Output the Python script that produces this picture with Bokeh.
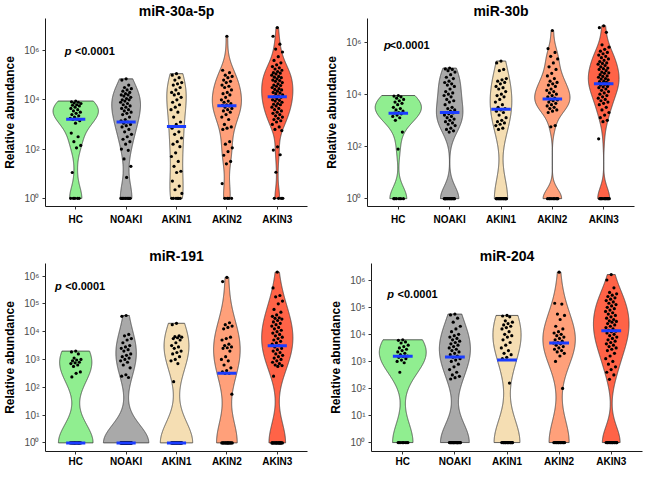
import numpy as np
from bokeh.plotting import figure
from bokeh.layouts import column, row
from bokeh.models import FixedTicker, Label
from bokeh.embed import file_html
from bokeh.resources import INLINE

groups = ["HC", "NOAKI", "AKIN1", "AKIN2", "AKIN3"]
colors = ["#90EE90", "#A9A9A9", "#F5DEB3", "#FFA07A", "#FF6347"]

# ---- values are log10(relative abundance); 0 = 10^0 ----
# miR-30a-5p
m30a_HC = [3.95, 3.92, 3.9, 3.87, 3.85, 3.8, 3.78, 3.75, 3.7, 3.65, 3.6, 3.55, 3.5, 3.45, 3.4,
           3.35, 3.3, 3.25, 3.22, 3.2, 3.15, 3.05, 2.65, 2.5, 2.3, 2.15, 2.05, 1.05,
           0, 0, 0, 0, 0]
m30a_NOAKI = [4.85, 4.8, 4.6, 4.5, 4.45, 4.4, 4.35, 4.3, 4.25, 4.2, 4.2, 4.15, 4.1, 4.05, 4.0, 4.0,
              3.95, 3.9, 3.85, 3.8, 3.75, 3.7, 3.65, 3.6, 3.55, 3.5, 3.45, 3.4, 3.3, 3.2, 3.15, 3.1,
              3.05, 3.0, 2.95, 2.9, 2.8, 2.7, 2.6, 2.5, 2.4, 2.3, 2.2, 2.0, 1.95, 1.6, 1.3, 0.85,
              0, 0, 0, 0, 0, 0, 0, 0, 0, 0]
m30a_AKIN1 = [5.06, 5.0, 4.9, 4.8, 4.7, 4.65, 4.6, 4.5, 4.4, 4.3, 4.25, 4.2, 4.1, 4.0, 3.9, 3.8,
              3.7, 3.6, 3.5, 3.3, 3.1, 3.0, 2.85, 2.7, 2.6, 2.45, 2.3, 2.2, 2.1, 1.85, 1.7, 1.5,
              1.3, 1.1, 1.05, 0.7, 0.5, 0.35, 0.2,
              0, 0, 0, 0, 0, 0]
m30a_AKIN2 = [6.58, 5.2, 5.1, 5.0, 4.95, 4.9, 4.8, 4.75, 4.7, 4.6, 4.55, 4.5, 4.4, 4.3, 4.25, 4.2,
              4.1, 4.0, 3.95, 3.9, 3.85, 3.8, 3.78, 3.75, 3.7, 3.65, 3.6, 3.55, 3.5, 3.4, 3.3, 3.2,
              3.0, 2.9, 2.85, 2.8, 2.3, 2.2, 2.05, 1.9, 1.75, 1.5, 1.4, 0.6,
              0, 0, 0, 0]
m30a_AKIN3 = [6.93, 6.58, 6.26, 6.06, 5.94, 5.75, 5.6, 5.5, 5.42, 5.35, 5.3, 5.25, 5.2, 5.15, 5.1,
              5.08, 5.05, 5.0, 4.95, 4.92, 4.9, 4.85, 4.8, 4.78, 4.75, 4.7, 4.65, 4.6, 4.58, 4.55,
              4.5, 4.45, 4.42, 4.4, 4.35, 4.3, 4.28, 4.25, 4.2, 4.15, 4.12, 4.1, 4.05, 4.0, 3.98,
              3.95, 3.9, 3.85, 3.82, 3.8, 3.75, 3.7, 3.65, 3.6, 3.55, 3.5, 3.45, 3.4, 3.35, 3.3,
              3.25, 3.2, 3.15, 3.1, 3.0, 2.9, 2.8, 2.75, 2.09, 1.96, 1.77, 1.06,
              0, 0, 0, 0]
m30a_median = [3.21, 3.1, 2.92, 3.76, 4.12]

# miR-30b
m30b_HC = [3.95, 3.93, 3.9, 3.85, 3.8, 3.75, 3.7, 3.65, 3.6, 3.5, 3.45, 3.4, 3.35, 3.3, 3.28,
           3.25, 3.2, 3.15, 3.1, 3.0, 2.55, 1.9,
           0, 0, 0, 0, 0, 0]
m30b_NOAKI = [5.0, 4.97, 4.95, 4.9, 4.85, 4.75, 4.65, 4.6, 4.5, 4.45, 4.4, 4.35, 4.3, 4.2, 4.1,
              4.05, 4.0, 3.95, 3.9, 3.8, 3.75, 3.7, 3.6, 3.5, 3.45, 3.4, 3.35, 3.3, 3.28, 3.25,
              3.2, 3.15, 3.1, 3.05, 3.0, 2.95, 2.9, 2.85, 2.8, 2.7, 2.65, 2.6, 2.55,
              0, 0, 0, 0, 0, 0, 0, 0, 0, 0, 0, 0, 0, 0]
m30b_AKIN1 = [5.27, 5.2, 4.95, 4.9, 4.6, 4.55, 4.5, 4.45, 4.4, 4.3, 4.25, 4.2, 4.1, 4.0, 3.95,
              3.9, 3.8, 3.7, 3.6, 3.5, 3.45, 3.4, 3.35, 3.3, 3.2, 3.1, 3.0, 2.95, 2.9, 2.85, 2.8,
              2.7, 2.65,
              0, 0, 0, 0, 0, 0, 0, 0, 0, 0, 0, 0, 0, 0]
m30b_AKIN2 = [6.44, 5.75, 5.6, 5.45, 5.35, 5.2, 5.05, 4.95, 4.8, 4.7, 4.6, 4.5, 4.45, 4.4, 4.35,
              4.3, 4.2, 4.15, 4.1, 4.05, 4.0, 3.95, 3.9, 3.85, 3.8, 3.78, 3.75, 3.7, 3.65, 3.6,
              3.55, 3.5, 3.45, 3.4, 3.35, 3.3, 2.8, 2.75,
              0, 0, 0, 0, 0, 0, 0, 0, 0]
m30b_AKIN3 = [6.62, 6.55, 6.37, 5.89, 5.8, 5.72, 5.65, 5.6, 5.55, 5.5, 5.45, 5.4, 5.35, 5.3, 5.25,
              5.2, 5.18, 5.15, 5.1, 5.05, 5.0, 4.98, 4.95, 4.9, 4.85, 4.82, 4.8, 4.75, 4.7, 4.68,
              4.65, 4.6, 4.58, 4.55, 4.5, 4.48, 4.45, 4.42, 4.4, 4.38, 4.35, 4.3, 4.28, 4.25, 4.2,
              4.15, 4.1, 4.05, 4.0, 3.95, 3.9, 3.85, 3.8, 3.75, 3.7, 3.65, 3.6, 3.5, 3.4, 3.3, 3.2,
              3.1, 3.0, 2.95, 2.29,
              0, 0, 0, 0, 0, 0, 0, 0, 0, 0, 0]
m30b_median = [3.27, 3.3, 3.42, 3.82, 4.4]

# miR-191
m191_HC = [3.3, 3.27, 3.2, 3.05, 3.0, 2.98, 2.95, 2.9, 2.88, 2.85, 2.8, 2.75, 2.55, 2.5, 2.37,
           0, 0, 0, 0, 0, 0, 0, 0, 0, 0, 0, 0, 0, 0, 0]
m191_NOAKI = [4.58, 4.55, 3.9, 3.85, 3.75, 3.7, 3.6, 3.5, 3.45, 3.4, 3.35, 3.3, 3.2, 3.15, 3.1,
              3.05, 3.0, 2.95, 2.9, 2.8, 2.7, 2.45, 2.4, 2.35,
              0, 0, 0, 0, 0, 0, 0, 0, 0, 0,
              0, 0, 0, 0, 0, 0, 0, 0, 0, 0,
              0, 0, 0, 0, 0, 0, 0, 0, 0, 0,
              0, 0, 0, 0, 0, 0, 0, 0, 0, 0]
m191_AKIN1 = [4.3, 4.25, 3.85, 3.82, 3.8, 3.78, 3.75, 3.7, 3.6, 3.5, 3.45, 3.4, 3.3, 3.25, 3.2,
              3.1, 3.0, 2.95, 2.85, 2.2,
              0, 0, 0, 0, 0, 0, 0, 0, 0, 0,
              0, 0, 0, 0, 0, 0, 0, 0, 0, 0,
              0, 0]
m191_AKIN2 = [5.95, 5.8, 4.32, 4.25, 4.2, 4.15, 4.1, 3.8, 3.75, 3.7, 3.55, 3.5, 3.45, 3.42, 3.4,
              3.3, 3.1, 3.0, 2.95, 2.8, 2.7, 2.6, 2.55, 2.5, 2.5, 1.75,
              0, 0, 0, 0, 0, 0, 0, 0, 0, 0, 0, 0, 0, 0]
m191_AKIN3 = [6.14, 5.57, 5.3, 5.25, 5.1, 5.0, 4.8, 4.7, 4.6, 4.55, 4.5, 4.48, 4.45, 4.4, 4.35,
              4.3, 4.25, 4.2, 4.15, 4.1, 4.05, 4.0, 3.95, 3.9, 3.85, 3.8, 3.75, 3.7, 3.65, 3.6,
              3.55, 3.5, 3.45, 3.4, 3.35, 3.3, 3.25, 3.2, 3.15, 3.1, 3.05, 3.0, 2.95, 2.9, 2.85,
              2.8, 2.78, 2.75, 2.4,
              0, 0, 0, 0, 0, 0, 0, 0, 0, 0, 0, 0, 0, 0, 0, 0, 0]
m191_median = [0, 0, 0, 2.5, 3.49]

# miR-204
m204_HC = [3.8, 3.78, 3.72, 3.68, 3.6, 3.55, 3.5, 3.45, 3.4, 3.35, 3.3, 3.25, 3.2, 3.18, 3.15,
           3.1, 3.05, 3.0, 2.95, 2.6,
           0, 0, 0, 0, 0, 0, 0, 0]
m204_NOAKI = [4.75, 4.72, 4.6, 4.45, 4.3, 4.2, 4.1, 4.0, 3.95, 3.9, 3.85, 3.8, 3.75, 3.7, 3.65,
              3.6, 3.55, 3.5, 3.45, 3.4, 3.35, 3.3, 3.25, 3.2, 3.15, 3.1, 3.05, 3.0, 2.9, 2.8,
              2.7, 2.6, 2.5, 2.45, 2.4, 2.35,
              0, 0, 0, 0, 0, 0, 0, 0, 0, 0,
              0, 0, 0, 0, 0, 0, 0, 0, 0, 0,
              0, 0, 0, 0]
m204_AKIN1 = [4.7, 4.68, 4.65, 4.5, 4.45, 4.4, 4.35, 4.3, 4.25, 4.2, 4.1, 4.0, 3.95, 3.9, 3.8,
              3.7, 3.6, 3.5, 3.4, 3.3, 3.25, 3.15, 3.1, 2.2,
              0, 0, 0, 0, 0, 0, 0, 0, 0, 0,
              0, 0, 0, 0, 0, 0, 0, 0]
m204_AKIN2 = [6.3, 5.15, 5.12, 4.75, 4.7, 4.55, 4.3, 4.2, 4.1, 4.05, 4.0, 3.95, 3.9, 3.85, 3.8,
              3.75, 3.7, 3.68, 3.65, 3.6, 3.55, 3.5, 3.45, 3.4, 3.35, 3.3, 3.2, 3.0, 2.0,
              0, 0, 0, 0, 0, 0, 0, 0, 0, 0, 0, 0, 0, 0]
m204_AKIN3 = [6.21, 6.01, 5.72, 5.55, 5.5, 5.45, 5.4, 5.35, 5.3, 5.25, 5.2, 5.15, 5.1, 5.05, 5.0,
              4.95, 4.9, 4.85, 4.8, 4.75, 4.7, 4.65, 4.6, 4.55, 4.5, 4.48, 4.45, 4.4, 4.35, 4.3,
              4.25, 4.2, 4.15, 4.12, 4.1, 4.05, 4.0, 3.95, 3.9, 3.85, 3.8, 3.75, 3.7, 3.65, 3.6,
              3.55, 3.5, 3.45, 3.4, 3.3, 3.2, 3.1, 3.0, 2.9, 2.8, 2.7, 2.6, 2.5, 2.34,
              0, 0, 0, 0, 0, 0, 0, 0, 0, 0, 0, 0, 0, 0, 0]
m204_median = [3.19, 3.16, 3.05, 3.68, 4.13]

SUP = {0: "\u2070", 1: "\u00b9", 2: "\u00b2", 3: "\u00b3", 4: "\u2074", 5: "\u2075", 6: "\u2076"}
FONT = "Liberation Sans"


def nrd0(x):
    n = len(x)
    sd = np.std(x, ddof=1)
    q25, q75 = np.percentile(x, [25, 75])
    lo = min(sd, (q75 - q25) / 1.34)
    if lo == 0:
        lo = sd if sd > 0 else 1.0
    return 0.9 * lo * n ** -0.2


def kde(x, grid, bw):
    z = (grid[:, None] - x[None, :]) / bw
    return np.exp(-0.5 * z ** 2).sum(axis=1) / (len(x) * bw * np.sqrt(2 * np.pi))


def panel(title, data, medians, yr, ticks, ptxt, width, height, bl, br, bt, bb, xstand):
    p = figure(width=width, height=height, x_range=(0.4, 5.6), y_range=yr,
               output_backend="svg", toolbar_location=None,
               min_border_left=bl, min_border_right=br, min_border_top=bt, min_border_bottom=bb)
    p.outline_line_color = None
    p.xgrid.visible = False
    p.ygrid.visible = False
    p.background_fill_color = "white"
    p.border_fill_color = "white"
    p.title.text = title
    p.title.align = "center"
    p.title.text_font = FONT
    p.title.text_font_size = "14px"
    p.title.text_font_style = "bold"
    p.title.text_color = "black"
    p.title.standoff = 0
    p.title.offset = 0

    dens = []
    for vals in data:
        v = np.array(vals, dtype=float)
        grid = np.linspace(v.min(), v.max(), 512)
        dens.append((grid, kde(v, grid, nrd0(v))))
    mx = max(d.max() for _, d in dens)
    for i, (grid, d) in enumerate(dens):
        hw = 0.45 * d / mx
        xs = np.concatenate([i + 1 + hw, (i + 1 - hw)[::-1]])
        ys = np.concatenate([grid, grid[::-1]])
        p.patch(xs, ys, fill_color=colors[i], line_color="#3a3a3a", line_width=0.8)

    for i, vals in enumerate(data):
        n = len(vals)
        jit = ((np.arange(n) * 0.6180339887 + 0.5) % 1.0 - 0.5) * 0.22
        p.scatter(i + 1 + jit, vals, size=3.2, fill_color="black", line_color=None)

    xc = np.arange(1, 6)
    p.segment(x0=xc - 0.19, x1=xc + 0.19, y0=medians, y1=medians,
              line_color="#1a3cff", line_width=3)

    p.xaxis.ticker = FixedTicker(ticks=list(xc))
    p.xaxis.major_label_overrides = {int(k): g for k, g in zip(xc, groups)}
    p.yaxis.ticker = FixedTicker(ticks=ticks)
    p.yaxis.major_label_overrides = {t: "10" + SUP[t] for t in ticks}
    for ax in (p.xaxis[0], p.yaxis[0]):
        ax.axis_line_color = "#1a1a1a"
        ax.axis_line_width = 1
        ax.major_tick_line_color = "#333333"
        ax.major_tick_out = 3
        ax.major_tick_in = 0
        ax.minor_tick_line_color = None
        ax.major_label_text_font = FONT
        ax.major_label_text_font_size = "10px"
    p.xaxis.major_label_text_font_style = "bold"
    p.xaxis.major_label_text_color = "black"
    p.xaxis.major_label_standoff = xstand
    p.yaxis.major_label_text_color = "#4d4d4d"
    p.yaxis.major_label_standoff = 3
    p.yaxis.axis_label = "Relative abundance"
    p.yaxis.axis_label_text_font = FONT
    p.yaxis.axis_label_text_font_size = "12px"
    p.yaxis.axis_label_text_font_style = "bold"
    p.yaxis.axis_label_text_color = "black"
    p.yaxis.axis_label_standoff = 4

    px, lx, ty = ptxt
    p.add_layout(Label(x=px, y=ty, text="p", text_font=FONT, text_font_size="11px",
                       text_font_style="bold italic", text_baseline="middle", text_color="black"))
    p.add_layout(Label(x=lx, y=ty, text="<0.0001", text_font=FONT, text_font_size="11px",
                       text_font_style="bold", text_baseline="middle", text_color="black"))
    return p


p1 = panel("miR-30a-5p", [m30a_HC, m30a_NOAKI, m30a_AKIN1, m30a_AKIN2, m30a_AKIN3], m30a_median,
           (-0.33, 7.3), [0, 2, 4, 6], (0.78, 0.98, 6.0), 322, 234, 37, 15, 16, 27, 4)
p2 = panel("miR-30b", [m30b_HC, m30b_NOAKI, m30b_AKIN1, m30b_AKIN2, m30b_AKIN3], m30b_median,
           (-0.3, 6.9), [0, 2, 4, 6], (0.72, 0.83, 5.89), 322, 234, 45, 10, 17, 28, 4)
p3 = panel("miR-191", [m191_HC, m191_NOAKI, m191_AKIN1, m191_AKIN2, m191_AKIN3], m191_median,
           (-0.31, 6.45), [0, 1, 2, 3, 4, 5, 6], (0.59, 0.79, 5.63), 322, 235, 37, 15, 29, 15, 1)
p4 = panel("miR-204", [m204_HC, m204_NOAKI, m204_AKIN1, m204_AKIN2, m204_AKIN3], m204_median,
           (-0.33, 6.62), [0, 1, 2, 3, 4, 5, 6], (0.7, 0.9, 5.49), 322, 235, 49, 2, 29, 15, 1)

layout = column(row(p1, p2), row(p3, p4))
open("out.html", "w").write(file_html(layout, INLINE))
